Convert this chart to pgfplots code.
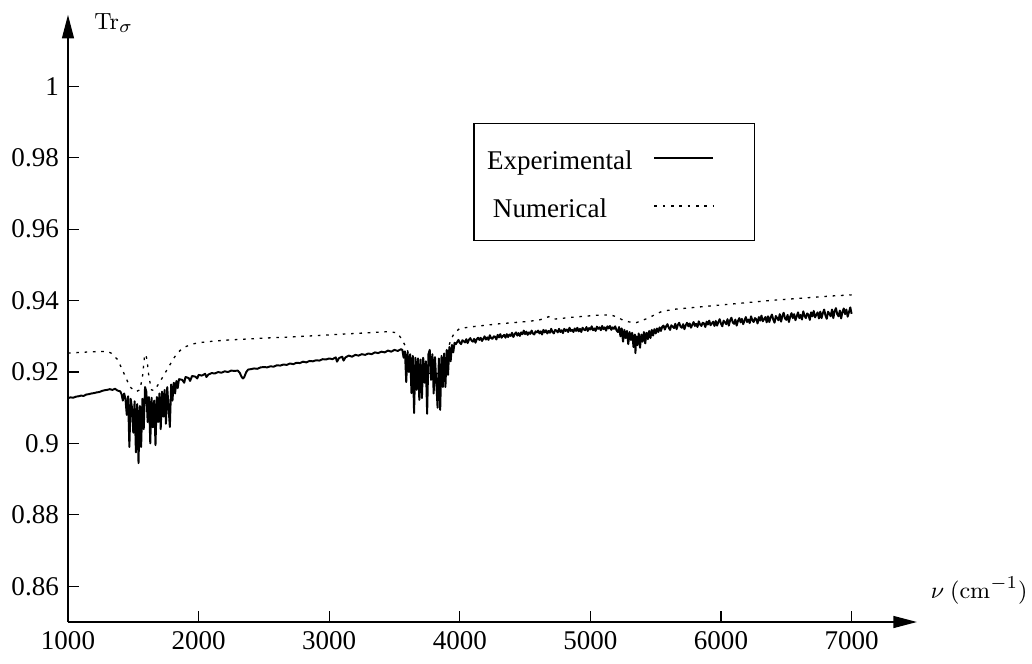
\documentclass[border=0pt]{standalone}
\usepackage[no-math]{fontspec}
\setmainfont{Liberation Serif}
\usepackage{pgfplots}
\usepackage{pgfplotstable}
\pgfplotsset{compat=1.18}
\usetikzlibrary{arrows.meta}

\pgfplotstableread{
x y
1000 .9127
1020 .9129
1040 .9128
1060 .9131
1080 .9132
1100 .9134
1120 .9133
1140 .9137
1160 .9138
1180 .9140
1200 .9141
1220 .9143
1240 .9144
1260 .9147
1280 .9149
1300 .9150
1320 .9152
1340 .9150
1360 .9153
1380 .9148
1400 .9146
1410 .9138
1420 .9120
1430 .9140
1440 .9125
1450 .9080
1460 .9132
1470 .8990
1480 .9125
1490 .9100
1500 .9030
1510 .9118
1520 .8975
1530 .9110
1540 .8945
1550 .9105
1560 .8990
1570 .9125
1580 .9040
1590 .9158
1600 .9145
1610 .9060
1620 .9130
1630 .9000
1640 .9128
1650 .9045
1660 .9120
1670 .8995
1680 .9130
1690 .9060
1700 .9140
1710 .9040
1720 .9145
1730 .9075
1740 .9150
1750 .9055
1760 .9158
1770 .9100
1780 .9046
1790 .9165
1800 .9120
1810 .9170
1820 .9140
1830 .9175
1840 .9155
1850 .9180
1875 .9178
1890 .9170
1900 .9186
1925 .9183
1935 .9175
1950 .9189
1975 .9187
1990 .9182
2000 .9192
2025 .9190
2050 .9195
2060 .9186
2075 .9193
2100 .9197
2125 .9196
2150 .9200
2175 .9198
2200 .9202
2225 .9200
2250 .9204
2275 .9203
2300 .9204
2315 .9198
2330 .9186
2340 .9182
2350 .9186
2365 .9200
2380 .9207
2400 .9208
2425 .9210
2450 .9209
2475 .9213
2500 .9214
2525 .9213
2550 .9216
2575 .9215
2600 .9219
2625 .9218
2650 .9221
2675 .9220
2700 .9224
2725 .9222
2750 .9226
2775 .9225
2800 .9229
2825 .9227
2850 .9231
2875 .9230
2900 .9233
2925 .9232
2950 .9236
2975 .9235
3000 .9238
3025 .9236
3050 .9241
3060 .9229
3075 .9239
3100 .9243
3110 .9232
3125 .9241
3150 .9246
3175 .9243
3200 .9248
3225 .9246
3250 .9250
3275 .9248
3300 .9252
3325 .9250
3350 .9255
3375 .9253
3400 .9257
3425 .9255
3450 .9260
3475 .9257
3500 .9262
3525 .9259
3550 .9264
3560 .9262
3570 .9240
3580 .9258
3590 .9172
3600 .9255
3610 .9200
3620 .9250
3630 .9141
3640 .9245
3650 .9085
3660 .9240
3670 .9150
3680 .9238
3690 .9122
3700 .9235
3710 .9127
3720 .9240
3730 .9170
3740 .9230
3750 .9083
3760 .9250
3770 .9262
3780 .9178
3790 .9250
3800 .9140
3810 .9242
3820 .9170
3830 .9100
3840 .9238
3850 .9094
3860 .9245
3870 .9158
3880 .9252
3890 .9158
3900 .9262
3910 .9192
3920 .9270
3930 .9230
3940 .9276
3950 .9255
3960 .9282
3970 .9278
3980 .9284
3990 .9290
4000 .9282
4010 .9278
4020 .9289
4030 .9286
4040 .9283
4050 .9292
4060 .9281
4070 .9290
4080 .9295
4090 .9288
4100 .9285
4110 .9293
4120 .9282
4130 .9292
4140 .9296
4150 .9290
4160 .9296
4170 .9287
4180 .9293
4190 .9300
4200 .9291
4210 .9297
4220 .9290
4230 .9303
4240 .9295
4250 .9293
4260 .9300
4270 .9299
4280 .9291
4290 .9304
4300 .9297
4310 .9306
4320 .9296
4330 .9301
4340 .9304
4350 .9296
4360 .9306
4370 .9298
4380 .9305
4390 .9301
4400 .9310
4410 .9298
4420 .9306
4430 .9311
4440 .9302
4450 .9309
4460 .9301
4470 .9311
4480 .9306
4490 .9316
4500 .9306
4510 .9313
4520 .9304
4530 .9311
4540 .9307
4550 .9316
4560 .9308
4570 .9305
4580 .9314
4590 .9311
4600 .9316
4610 .9308
4620 .9314
4630 .9305
4640 .9318
4650 .9311
4660 .9317
4670 .9308
4680 .9315
4690 .9310
4700 .9321
4710 .9312
4720 .9308
4730 .9318
4740 .9316
4750 .9311
4760 .9321
4770 .9312
4780 .9317
4790 .9309
4800 .9321
4810 .9315
4820 .9319
4830 .9312
4840 .9324
4850 .9315
4860 .9318
4870 .9312
4880 .9322
4890 .9315
4900 .9324
4910 .9314
4920 .9321
4930 .9312
4940 .9324
4950 .9319
4960 .9317
4970 .9326
4980 .9315
4990 .9323
5000 .9319
5010 .9328
5020 .9317
5030 .9322
5040 .9315
5050 .9327
5060 .9321
5070 .9325
5080 .9317
5090 .9329
5100 .9320
5110 .9325
5120 .9316
5130 .9328
5140 .9322
5150 .9329
5160 .9318
5170 .9325
5180 .9321
5190 .9328
5200 .9317
5210 .9312
5220 .9326
5230 .9300
5240 .9322
5250 .9285
5260 .9318
5270 .9295
5280 .9315
5290 .9278
5300 .9312
5310 .9290
5320 .9310
5330 .9270
5340 .9305
5345 .9253
5350 .9300
5360 .9275
5370 .9308
5380 .9268
5390 .9305
5400 .9285
5410 .9312
5420 .9280
5430 .9310
5440 .9292
5450 .9315
5460 .9295
5470 .9318
5480 .9302
5490 .9320
5500 .9308
5510 .9322
5520 .9312
5530 .9325
5540 .9315
5550 .9327
5560 .9330
5570 .9319
5580 .9328
5590 .9334
5600 .9324
5610 .9318
5620 .9331
5630 .9327
5640 .9323
5650 .9335
5660 .9320
5670 .9332
5680 .9338
5690 .9327
5700 .9324
5710 .9334
5720 .9320
5730 .9331
5740 .9338
5750 .9328
5760 .9336
5770 .9324
5780 .9332
5790 .9340
5800 .9329
5810 .9335
5820 .9326
5830 .9342
5840 .9333
5850 .9329
5860 .9338
5870 .9336
5880 .9326
5890 .9341
5900 .9333
5910 .9344
5920 .9331
5930 .9336
5940 .9341
5950 .9329
5960 .9343
5970 .9330
5980 .9340
5990 .9348
6000 .9335
6010 .9328
6020 .9344
6030 .9339
6040 .9334
6050 .9348
6060 .9330
6070 .9345
6080 .9352
6090 .9339
6100 .9335
6110 .9347
6120 .9330
6130 .9343
6140 .9351
6150 .9339
6160 .9349
6170 .9334
6180 .9344
6190 .9354
6200 .9340
6210 .9347
6220 .9337
6230 .9356
6240 .9345
6250 .9340
6260 .9351
6270 .9348
6280 .9336
6290 .9354
6300 .9344
6310 .9358
6320 .9342
6330 .9348
6340 .9354
6350 .9339
6360 .9356
6370 .9340
6380 .9353
6390 .9361
6400 .9347
6410 .9338
6420 .9357
6430 .9351
6440 .9345
6450 .9362
6460 .9341
6470 .9357
6480 .9366
6490 .9350
6500 .9346
6510 .9360
6520 .9340
6530 .9355
6540 .9365
6550 .9351
6560 .9362
6570 .9345
6580 .9356
6590 .9367
6600 .9351
6610 .9360
6620 .9347
6630 .9370
6640 .9357
6650 .9351
6660 .9364
6670 .9360
6680 .9346
6690 .9367
6700 .9356
6710 .9371
6720 .9353
6730 .9360
6740 .9367
6750 .9350
6760 .9369
6770 .9351
6780 .9365
6790 .9375
6800 .9358
6810 .9349
6820 .9369
6830 .9363
6840 .9356
6850 .9375
6860 .9351
6870 .9370
6880 .9379
6890 .9362
6900 .9356
6910 .9372
6920 .9350
6930 .9368
6940 .9378
6950 .9362
6960 .9375
6970 .9355
6980 .9368
6990 .9381
7000 .9363
}\exper

\pgfplotstableread{
x y
1000 .9253
1100 .9255
1200 .9257
1300 .9258
1330 .9253
1380 .9235
1430 .9195
1475 .9158
1520 .9145
1550 .9150
1570 .9185
1585 .9240
1595 .9250
1605 .9235
1620 .9185
1640 .9150
1660 .9148
1700 .9170
1740 .9195
1780 .9220
1830 .9250
1880 .9268
1950 .9278
2000 .9282
2100 .9286
2200 .9289
2300 .9291
2400 .9293
2500 .9295
2700 .9298
2900 .9302
3100 .9306
3300 .9310
3450 .9313
3520 .9310
3560 .9290
3600 .9260
3650 .9200
3700 .9170
3750 .9200
3800 .9190
3850 .9200
3900 .9250
3930 .9290
3960 .9310
4000 .9322
4100 .9327
4200 .9331
4300 .9335
4400 .9338
4500 .9341
4600 .9345
4650 .9350
4680 .9355
4710 .9348
4750 .9349
4850 .9353
4950 .9356
5050 .9359
5150 .9360
5200 .9355
5250 .9345
5300 .9340
5350 .9338
5400 .9345
5450 .9352
5500 .9362
5550 .9370
5650 .9376
5800 .9381
5950 .9386
6100 .9391
6250 .9396
6400 .9401
6550 .9405
6700 .9409
6850 .9413
7000 .9416
}\numer

\begin{document}
\begin{tikzpicture}
\useasboundingbox (-26.15pt,-16.15pt) rectangle (370.77pt,239.23pt);
\begin{axis}[
  at={(0pt,0pt)}, anchor=south west,
  scale only axis,
  width=326.5pt, height=233.5pt,
  xmin=1000, xmax=7500, ymin=0.85, ymax=1.02,
  axis lines=left,
  axis line style={line width=0.45pt, -{Triangle[length=9pt,width=4.6pt]}},
  tick align=inside,
  major tick length=4.3pt,
  tick style={line width=0.45pt, black},
  xtick={1000,2000,3000,4000,5000,6000,7000},
  ytick={0.86,0.88,0.9,0.92,0.94,0.96,0.98,1},
  scaled x ticks=false, scaled y ticks=false,
  /pgf/number format/1000 sep={},
  /pgf/number format/assume math mode=true,
  tick label style={font=\fontsize{10.4}{12}\selectfont},
  every axis x label/.style={at={(axis description cs:1,0)}, anchor=base west, xshift=1.8pt, yshift=9.2pt, font=\fontsize{9.4}{11}\selectfont},
  every axis y label/.style={at={(axis description cs:0,1)}, anchor=base west, xshift=6.6pt, yshift=-5.6pt, font=\fontsize{9.5}{11}\selectfont},
  xlabel={$\nu\ (\mathrm{cm}^{-1})$},
  ylabel={$\mathrm{Tr}_\sigma$},
  legend plot pos=right,
  legend image code/.code={\draw[#1] (0pt,0pt) -- (22.5pt,0pt); \path[draw=none] (0pt,0pt) -- (35.5pt,0pt);},
  legend style={at={(axis description cs:0.4776,0.822)}, anchor=north west,
    draw=black, line width=0.45pt, inner xsep=3pt, inner ysep=6.75pt, row sep=5.5pt,
    font=\fontsize{10.4}{12}\selectfont,
    nodes={text height=9pt, text depth=0pt},
    cells={anchor=west},
    /tikz/every odd column/.append style={column sep=6pt}},
]
\addplot[black, line width=0.75pt, line join=round] table[x=x,y=y] {\exper};
\addlegendentry{Experimental}
\addplot[black, line width=0.5pt, dash pattern=on 1pt off 2.2pt] table[x=x,y=y] {\numer};
\addlegendentry{\hspace{2.3pt}Numerical}
\end{axis}
\end{tikzpicture}
\end{document}
